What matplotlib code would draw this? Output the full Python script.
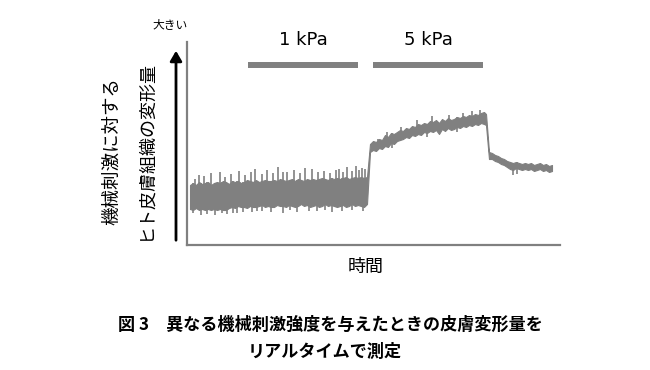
import numpy as np
import matplotlib
matplotlib.use('Agg')
import matplotlib.pyplot as plt

plt.rcParams['font.family'] = ['Noto Sans CJK JP', 'DejaVu Sans']

# time (arbitrary units) and the upper / lower edge of the noisy trace
time = [3, 6, 9, 12, 15, 18, 21, 24, 27, 30, 33, 36, 39, 42, 45, 48, 51, 54, 57, 60,
        63, 66, 69, 72, 75, 78, 81, 84, 87, 90, 93, 96, 99, 102, 105, 108, 111, 114, 117, 120,
        123, 126, 129, 132, 135, 138, 141, 144, 147, 150, 153, 156, 159, 162, 165, 168, 171, 174, 177, 180,
        183, 186, 189, 192, 195, 198, 201, 204, 207, 210, 213, 216, 219, 222, 225, 228, 231, 234, 237, 240,
        243, 246, 249, 252, 255, 258, 261, 264, 267, 270, 273, 276, 279, 282, 285, 288, 291, 294, 297, 299,
        302, 305, 308, 311, 314, 317, 320, 323, 326, 329, 332, 335, 338, 341, 344, 347, 350, 353, 356, 359, 362, 365]
upper = [60, 62, 60, 63, 61, 62, 63, 60, 62, 63, 62, 64, 63, 61, 64, 63, 64, 62, 63, 65,
         64, 63, 65, 63, 64, 65, 64, 64, 65, 64, 66, 65, 64, 65, 66, 64, 66, 65, 64, 66,
         65, 66, 65, 66, 67, 66, 65, 67, 66, 67, 66, 67, 68, 66, 67, 68, 67, 68, 67, 68,
         101, 104, 103, 106, 105, 110, 108, 112, 111, 113, 115, 114, 117, 116, 119, 118, 121, 120, 122, 121,
         124, 123, 125, 122, 126, 124, 127, 125, 126, 128, 127, 129, 128, 130, 129, 131, 130, 132, 133, 131,
         93, 92, 90, 89, 87, 86, 84, 83, 82, 83, 82, 81, 82, 81, 82, 80, 81, 82, 80, 81, 79, 80]
lower = [36, 35, 37, 35, 36, 35, 36, 35, 36, 35, 36, 35, 35, 37, 38, 37, 39, 38, 38, 37,
         39, 38, 38, 39, 40, 38, 39, 38, 38, 40, 39, 39, 38, 40, 39, 38, 39, 41, 39, 40,
         38, 39, 40, 38, 39, 41, 39, 40, 39, 38, 39, 40, 38, 39, 41, 39, 40, 39, 38, 41,
         93, 95, 94, 97, 96, 99, 98, 102, 101, 104, 105, 106, 108, 107, 110, 109, 111, 110, 113, 112,
         114, 113, 115, 111, 116, 114, 117, 115, 116, 118, 117, 119, 118, 120, 119, 121, 120, 122, 121, 120,
         86, 86, 84, 83, 81, 80, 78, 76, 75, 77, 76, 75, 76, 75, 76, 74, 75, 76, 74, 75, 73, 74]

# sharp noise spikes (time, tip)
spike_up_t = [8, 12, 17, 24, 33, 38, 44, 52, 58, 64, 68, 75, 80, 86, 91, 96, 100, 107, 113, 118,
              125, 131, 137, 143, 149, 152, 156, 160, 165, 169, 172, 175, 178, 191, 200, 214, 230, 245, 262, 276, 285, 293]
spike_up_v = [66, 70, 69, 72, 73, 68, 71, 74, 70, 73, 76, 71, 75, 72, 78, 73, 73, 75, 72, 77,
              76, 73, 74, 72, 75, 76, 73, 78, 74, 79, 75, 77, 76, 106, 113, 118, 125, 129, 130, 132, 134, 135]
spike_dn_t = [6, 14, 20, 28, 35, 40, 46, 50, 56, 65, 70, 75, 84, 96, 103, 110, 122, 130, 138, 145, 155, 165, 176,
              205, 240, 270, 326, 330]
spike_dn_v = [32, 30, 31, 30, 32, 31, 32, 32, 33, 33, 34, 34, 33, 32, 35, 33, 34, 34, 35, 33, 34, 35, 34,
              97, 108, 113, 70, 71]

# stimulus periods
stim_labels = ['1 kPa', '5 kPa']
stim_start = [61, 186]
stim_end = [171, 296]
stim_level = 180

gray = '#808080'

fig = plt.figure(figsize=(6.5, 3.7), dpi=100)
ax = fig.add_axes([187 / 650, 125 / 370, 373 / 650, 203 / 370])

ax.fill_between(time, lower, upper, color=gray, linewidth=0.8, edgecolor=gray)
ax.vlines(spike_up_t, np.interp(spike_up_t, time, lower), spike_up_v, color=gray, linewidth=1.2)
ax.vlines(spike_dn_t, spike_dn_v, np.interp(spike_dn_t, time, upper), color=gray, linewidth=1.2)

for lab, s, e in zip(stim_labels, stim_start, stim_end):
    ax.plot([s, e], [stim_level, stim_level], color=gray, linewidth=4.3, solid_capstyle='butt')
    ax.text((s + e) / 2, stim_level + 25, lab, ha='center', va='center',
            fontsize=13, family='DejaVu Sans', clip_on=False)

ax.set_xlim(0, 373)
ax.set_ylim(0, 203)
ax.set_xticks([])
ax.set_yticks([])
for side in ['top', 'right']:
    ax.spines[side].set_visible(False)
for side in ['left', 'bottom']:
    ax.spines[side].set_color(gray)
    ax.spines[side].set_linewidth(1.6)

# y arrow and labels
fig.patches.append(matplotlib.patches.FancyArrowPatch(
    (176 / 650, 1 - 243 / 370), (176 / 650, 1 - 48 / 370), transform=fig.transFigure,
    arrowstyle='-|>,head_length=6,head_width=3.5', color='black', linewidth=2))
fig.text(170 / 650, 1 - 25 / 370, '大きい', ha='center', va='center', fontsize=8.5)
fig.text(112 / 650, 1 - 151 / 370, '機械刺激に対する', rotation=90, ha='center', va='center', fontsize=13.3)
fig.text(146 / 650, 1 - 150 / 370, 'ヒト皮膚組織の変形量', rotation=90, ha='center', va='center', fontsize=13)
fig.text(366 / 650, 1 - 267 / 370, '時間', ha='center', va='center', fontsize=13)

# caption
fig.text(330 / 650, 1 - 325 / 370, '図 3　異なる機械刺激強度を与えたときの皮膚変形量を',
         ha='center', va='center', fontsize=12.3, fontweight='bold')
fig.text(325 / 650, 1 - 352 / 370, 'リアルタイムで測定',
         ha='center', va='center', fontsize=12.3, fontweight='bold')

fig.savefig('out.png', dpi=100)
